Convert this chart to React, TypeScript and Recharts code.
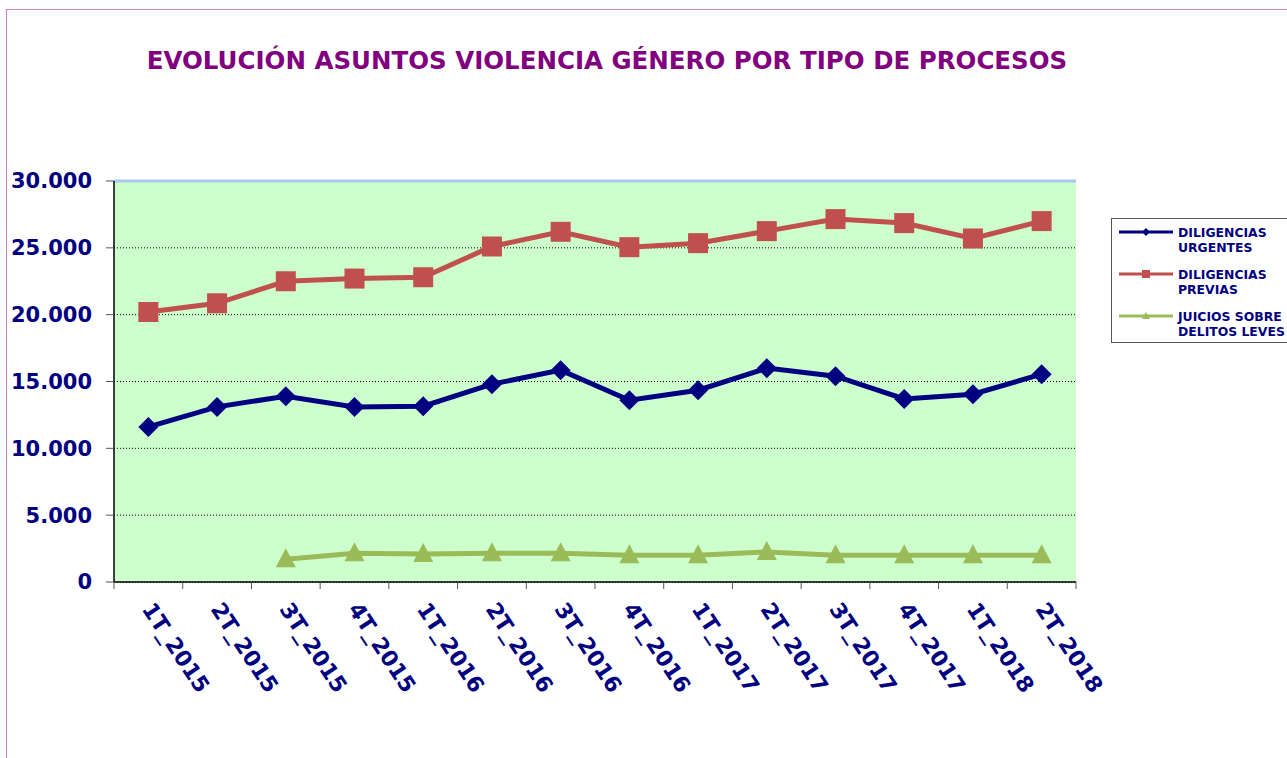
import {
  LineChart,
  Line,
  XAxis,
  YAxis,
  CartesianGrid,
  ReferenceLine,
  Legend,
} from "recharts";

const quarters = [
  "1T_2015", "2T_2015", "3T_2015", "4T_2015",
  "1T_2016", "2T_2016", "3T_2016", "4T_2016",
  "1T_2017", "2T_2017", "3T_2017", "4T_2017",
  "1T_2018", "2T_2018",
];

const urgentes = [
  11600, 13100, 13900, 13100, 13150, 14800, 15850, 13600,
  14350, 16000, 15400, 13700, 14050, 15550,
];

const previas = [
  20200, 20850, 22500, 22700, 22800, 25100, 26200, 25050,
  25350, 26250, 27150, 26850, 25700, 27000,
];

const juicios: (number | null)[] = [
  null, null, 1700, 2150, 2100, 2150, 2150, 2000,
  2000, 2250, 2000, 2000, 2000, 2000,
];

const yTicks = [0, 5000, 10000, 15000, 20000, 25000, 30000];

const W = 1287;
const H = 758;
const M = { top: 181, right: 211, bottom: 56, left: 14 };
const Y_AXIS_W = 100;
const PLOT_W = W - M.left - M.right - Y_AXIS_W;
const BAND = PLOT_W / quarters.length;

const NAVY = "#000080";
const RED = "#c0504d";
const GREEN = "#9bbb59";
const FONT = "'DejaVu Sans', Verdana, sans-serif";

const data = quarters.map((q, i) => ({
  q,
  urgentes: urgentes[i],
  previas: previas[i],
  juicios: juicios[i],
}));

const fmt = (v: number) => String(v).replace(/\B(?=(\d{3})+(?!\d))/g, ".");

const Diamond = ({ cx, cy }: any) => {
  if (cx == null || cy == null) return <g />;
  const r = 10;
  return (
    <path
      d={`M${cx},${cy - r}L${cx + r},${cy}L${cx},${cy + r}L${cx - r},${cy}Z`}
      fill={NAVY}
    />
  );
};

const Square = ({ cx, cy }: any) => {
  if (cx == null || cy == null) return <g />;
  return <rect x={cx - 10} y={cy - 10} width={20} height={20} fill={RED} />;
};

const Triangle = ({ cx, cy }: any) => {
  if (cx == null || cy == null) return <g />;
  return (
    <path
      d={`M${cx},${cy - 11}L${cx + 10},${cy + 8}L${cx - 10},${cy + 8}Z`}
      fill={GREEN}
    />
  );
};

const XTick = (props: any) => {
  const { x, y, payload, index } = props;
  const axisY = y - 7;
  const tx = x - 7;
  const ty = y + 20;
  return (
    <g>
      <line x1={x - BAND / 2} x2={x - BAND / 2} y1={axisY} y2={axisY + 7} stroke="#555" />
      {index === quarters.length - 1 && (
        <line x1={x + BAND / 2} x2={x + BAND / 2} y1={axisY} y2={axisY + 7} stroke="#555" />
      )}
      <text
        x={tx}
        y={ty}
        transform={`rotate(56.5, ${tx}, ${ty})`}
        textAnchor="start"
        fill={NAVY}
        fontSize={22}
        fontWeight="bold"
        fontFamily={FONT}
      >
        {payload.value}
      </text>
    </g>
  );
};

const legendItems = [
  { lines: ["DILIGENCIAS", "URGENTES"], color: NAVY, mark: "diamond" },
  { lines: ["DILIGENCIAS", "PREVIAS"], color: RED, mark: "square" },
  { lines: ["JUICIOS SOBRE", "DELITOS LEVES"], color: GREEN, mark: "triangle" },
];

const LegendIcon = ({ color, mark }: { color: string; mark: string }) => (
  <svg width={56} height={14} style={{ flex: "none" }}>
    <line x1={1} x2={55} y1={7} y2={7} stroke={color} strokeWidth={3} />
    {mark === "diamond" && <path d="M28,3L32,7L28,11L24,7Z" fill={color} />}
    {mark === "square" && <rect x={24} y={3} width={8} height={8} fill={color} />}
    {mark === "triangle" && <path d="M28,3L32,10L24,10Z" fill={color} />}
  </svg>
);

const LegendBox = () => (
  <div
    style={{
      border: "1px solid #555",
      background: "#fff",
      padding: "6px 0 4px 6px",
      boxSizing: "border-box",
      width: 180,
      height: 125,
    }}
  >
    {legendItems.map((it, i) => (
      <div key={i} style={{ display: "flex", alignItems: "flex-start", marginBottom: i < 2 ? 12 : 0 }}>
        <LegendIcon color={it.color} mark={it.mark} />
        <div
          style={{
            marginLeft: 4,
            color: NAVY,
            fontFamily: FONT,
            fontWeight: "bold",
            fontSize: 12.4,
            lineHeight: "15px",
            whiteSpace: "nowrap",
          }}
        >
          {it.lines[0]}
          <br />
          {it.lines[1]}
        </div>
      </div>
    ))}
  </div>
);

export default function App() {
  return (
    <div style={{ position: "absolute", left: 0, top: 0, width: W, height: H, background: "#fff", overflow: "hidden" }}>
      <div
        style={{
          position: "absolute",
          left: 6,
          top: 9,
          width: W,
          height: H,
          borderLeft: "1.5px solid #c880c8",
          borderTop: "1.5px solid #c880c8",
        }}
      />
      <div
        style={{
          position: "absolute",
          left: 107,
          top: 46,
          width: 1000,
          textAlign: "center",
          color: "#800080",
          fontFamily: FONT,
          fontWeight: "bold",
          fontSize: 24.5,
          whiteSpace: "nowrap",
        }}
      >
        EVOLUCIÓN ASUNTOS VIOLENCIA GÉNERO POR TIPO DE PROCESOS
      </div>
      <LineChart width={W} height={H} data={data} margin={M}>
        <CartesianGrid
          vertical={false}
          yAxisId="left"
          stroke="#000"
          strokeDasharray="1 2"
          fill="#ccffcc"
          fillOpacity={1}
        />
        <XAxis
          dataKey="q"
          height={120}
          padding={{ left: BAND / 2, right: BAND / 2 }}
          interval={0}
          tick={<XTick />}
          tickLine={false}
          tickSize={7}
          tickMargin={0}
          axisLine={{ stroke: "#000", strokeWidth: 1.5 }}
        />
        <YAxis
          yAxisId="left"
          width={Y_AXIS_W}
          domain={[0, 30000]}
          ticks={yTicks}
          tickFormatter={fmt}
          tickSize={8}
          tickMargin={14}
          tickLine={{ stroke: "#555" }}
          axisLine={{ stroke: "#000", strokeWidth: 1.5 }}
          tick={{ fill: NAVY, fontSize: 21, fontWeight: "bold", fontFamily: FONT }}
        />
        <YAxis
          yAxisId="right"
          orientation="right"
          width={0}
          domain={[0, 30000]}
          tick={false}
          tickLine={false}
          axisLine={{ stroke: "#a8c8f0", strokeWidth: 3 }}
        />
        <ReferenceLine yAxisId="left" y={30000} stroke="#a8c8f0" strokeWidth={3} />
        <Legend
          layout="vertical"
          align="center"
          verticalAlign="middle"
          content={<LegendBox />}
          wrapperStyle={{ position: "absolute", left: 1111, top: 218, width: 180 }}
        />
        <Line
          yAxisId="left"
          dataKey="urgentes"
          stroke={NAVY}
          strokeWidth={5}
          dot={<Diamond />}
          activeDot={false}
          isAnimationActive={false}
        />
        <Line
          yAxisId="left"
          dataKey="previas"
          stroke={RED}
          strokeWidth={5}
          dot={<Square />}
          activeDot={false}
          isAnimationActive={false}
        />
        <Line
          yAxisId="left"
          dataKey="juicios"
          stroke={GREEN}
          strokeWidth={5}
          dot={<Triangle />}
          activeDot={false}
          connectNulls={false}
          isAnimationActive={false}
        />
      </LineChart>
    </div>
  );
}
